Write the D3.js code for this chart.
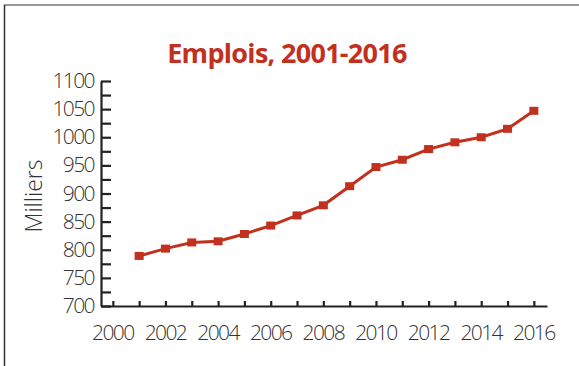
<!DOCTYPE html>
<html>
<head>
<meta charset="utf-8">
<script src="https://cdn.jsdelivr.net/npm/d3@7"></script>
<style>
  body { margin: 0; background: #fff; }
  svg { display: block; }
  .tick-label { font-family: "Open Sans", sans-serif; font-weight: 300; fill: #333; }
</style>
</head>
<body>
<div id="chart"></div>
<script>
// ---------------- data ----------------
const years = [2001, 2002, 2003, 2004, 2005, 2006, 2007, 2008,
               2009, 2010, 2011, 2012, 2013, 2014, 2015, 2016];
const emplois = [789, 802, 813, 815, 828, 843, 861, 879,
                 913, 947, 960, 979, 991, 1000, 1015, 1047];
const yTicks = [700, 750, 800, 850, 900, 950, 1000, 1050, 1100];
const xTicks = [2000, 2002, 2004, 2006, 2008, 2010, 2012, 2014, 2016];
const titleText = "Emplois, 2001-2016";
const yLabel = "Milliers";

// ---------------- svg ----------------
const width = 579, height = 366;
const red = "#c2301e";

const svg = d3.select("#chart").append("svg")
    .attr("width", width)
    .attr("height", height);

// frame (top + left rule)
svg.append("line")
    .attr("x1", 4).attr("x2", width).attr("y1", 5).attr("y2", 5)
    .attr("stroke", "#777").attr("stroke-width", 1.5);
svg.append("line")
    .attr("x1", 4.5).attr("x2", 4.5).attr("y1", 5).attr("y2", height)
    .attr("stroke", "#333").attr("stroke-width", 1.5);

// scales
const x = d3.scaleLinear().domain([1999.55, 2016.5]).range([101, 547]);
const y = d3.scaleLinear().domain([700, 1100]).range([306, 81]);

// title
svg.append("text")
    .attr("x", 287).attr("y", 63)
    .attr("text-anchor", "middle")
    .style("font-family", "'Open Sans', sans-serif")
    .style("font-weight", 700)
    .style("font-size", "27px")
    .style("letter-spacing", "-0.7px")
    .attr("fill", red)
    .text(titleText);

// y axis
const yAxis = d3.axisRight(y)
    .tickValues(d3.range(700, 1101, 25))
    .tickSize(10)
    .tickSizeOuter(0)
    .tickFormat("");
const gy = svg.append("g")
    .attr("transform", "translate(101,0)")
    .call(yAxis);
gy.selectAll("path, line").attr("stroke", "#222").attr("stroke-width", 2.2);

svg.append("g").selectAll("text")
    .data(yTicks)
    .enter().append("text")
    .attr("class", "tick-label")
    .attr("x", 94)
    .attr("y", d => y(d) + 7)
    .attr("text-anchor", "end")
    .style("font-size", "21px")
    .style("letter-spacing", "-1.6px")
    .text(d => d);

// x axis
const xAxis = d3.axisTop(x)
    .tickValues(d3.range(2000, 2017))
    .tickSize(5)
    .tickSizeOuter(0)
    .tickFormat("");
const gx = svg.append("g")
    .attr("transform", "translate(0,306)")
    .call(xAxis);
gx.selectAll("path, line").attr("stroke", "#222").attr("stroke-width", 2.2);

svg.append("g").selectAll("text")
    .data(xTicks)
    .enter().append("text")
    .attr("class", "tick-label")
    .attr("x", d => x(d))
    .attr("y", 340)
    .attr("text-anchor", "middle")
    .style("font-size", "21px")
    .style("letter-spacing", "-1.6px")
    .text(d => d);

// y label
svg.append("text")
    .attr("class", "tick-label")
    .attr("transform", "translate(42,196) rotate(-90)")
    .attr("text-anchor", "middle")
    .style("font-size", "23px")
    .text(yLabel);

// line
const line = d3.line()
    .x((d, i) => x(years[i]))
    .y(d => y(d));

svg.append("path")
    .datum(emplois)
    .attr("fill", "none")
    .attr("stroke", red)
    .attr("stroke-width", 3)
    .attr("d", line);

svg.append("g").selectAll("rect")
    .data(emplois)
    .enter().append("rect")
    .attr("x", (d, i) => x(years[i]) - 4.5)
    .attr("y", d => y(d) - 4)
    .attr("width", 9)
    .attr("height", 8)
    .attr("fill", red);
</script>
</body>
</html>
